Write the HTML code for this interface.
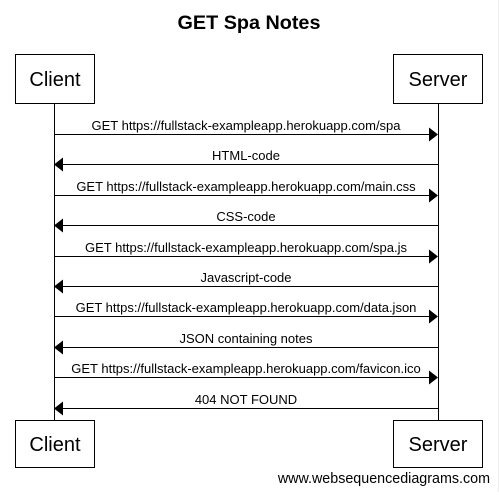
<!DOCTYPE html>
<html><head><style>body{margin:0;background:#fff}</style></head><body>
<svg width="499" height="492" xmlns="http://www.w3.org/2000/svg" font-family="Liberation Sans, Arial, sans-serif">
<rect x="0" y="0" width="499" height="492" fill="#fff"/>
<line x1="498.5" y1="0" x2="498.5" y2="492" stroke="#eee"/>
<text x="249" y="29" text-anchor="middle" font-size="19.8" font-weight="bold">GET Spa Notes</text>
<g fill="#fff" stroke="#000" stroke-width="1">
<rect x="15.5" y="54.5" width="79" height="49"/>
<rect x="393.5" y="54.5" width="89" height="49"/>
<rect x="15.5" y="420.5" width="79" height="47"/>
<rect x="393.5" y="420.5" width="89" height="47"/>
</g>
<g font-size="20" text-anchor="middle">
<text x="55" y="86">Client</text><text x="438" y="86">Server</text>
<text x="55" y="451">Client</text><text x="438" y="451">Server</text>
</g>
<g stroke="#000"><line x1="54.5" y1="104" x2="54.5" y2="420"/><line x1="438.5" y1="104" x2="438.5" y2="420"/></g>
<g font-size="13" text-anchor="middle" fill="#000">
<g stroke="#000"><line x1="54" y1="134.5" x2="430" y2="134.5"/><line x1="62" y1="164.5" x2="438" y2="164.5"/>
<line x1="54" y1="195.5" x2="430" y2="195.5"/><line x1="62" y1="225.5" x2="438" y2="225.5"/>
<line x1="54" y1="256.5" x2="430" y2="256.5"/><line x1="62" y1="286.5" x2="438" y2="286.5"/>
<line x1="54" y1="316.5" x2="430" y2="316.5"/><line x1="62" y1="347.5" x2="438" y2="347.5"/>
<line x1="54" y1="377.5" x2="430" y2="377.5"/><line x1="62" y1="408.5" x2="438" y2="408.5"/></g>
<path d="M438,134.5 l-9,-7 v14z M54,164.5 l9,-7 v14z M438,195.5 l-9,-7 v14z M54,225.5 l9,-7 v14z M438,256.5 l-9,-7 v14z M54,286.5 l9,-7 v14z M438,316.5 l-9,-7 v14z M54,347.5 l9,-7 v14z M438,377.5 l-9,-7 v14z M54,408.5 l9,-7 v14z"/>
<text x="246" y="130">GET https://fullstack-exampleapp.herokuapp.com/spa</text>
<text x="246" y="160">HTML-code</text>
<text x="246" y="191">GET https://fullstack-exampleapp.herokuapp.com/main.css</text>
<text x="246" y="221">CSS-code</text>
<text x="246" y="252">GET https://fullstack-exampleapp.herokuapp.com/spa.js</text>
<text x="246" y="282">Javascript-code</text>
<text x="246" y="312">GET https://fullstack-exampleapp.herokuapp.com/data.json</text>
<text x="246" y="343">JSON containing notes</text>
<text x="246" y="373">GET https://fullstack-exampleapp.herokuapp.com/favicon.ico</text>
<text x="246" y="404">404 NOT FOUND</text>
</g>
<text x="490" y="483" text-anchor="end" font-size="14.3">www.websequencediagrams.com</text>
</svg>
</body></html>
